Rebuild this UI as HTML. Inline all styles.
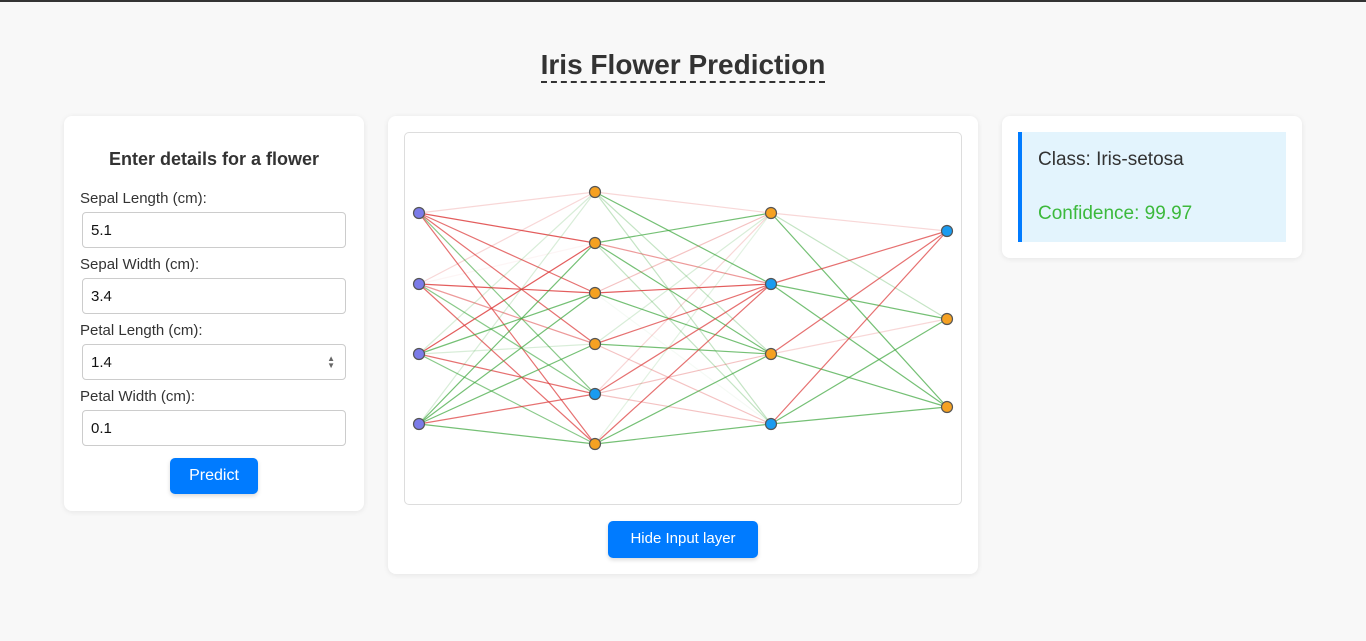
<!DOCTYPE html>
<html><head><meta charset="utf-8"><style>
body{margin:0;width:1366px;height:641px;background:#f8f8f8;font-family:"Liberation Sans",Arial,sans-serif;border-top:2px solid #333;box-sizing:border-box;position:relative;overflow:hidden;color:#333}
.card{position:absolute;background:#fff;border-radius:8px;box-shadow:0 1px 6px rgba(0,0,0,.08)}
h1{position:absolute;left:0;width:1366px;top:47px;margin:0;text-align:center;font-size:28px;font-weight:bold}
h1 span{border-bottom:2px dashed #333;padding-bottom:1px}
label{position:absolute;left:16px;font-size:15px;color:#333}
.inp{position:absolute;left:18px;width:264px;height:36px;border:1px solid #ccc;border-radius:4px;box-sizing:border-box;font-size:15px;padding:9px 8px;color:#111}
.btn{position:absolute;background:#007bff;color:#fff;border-radius:5px;font-size:16px;text-align:center;box-shadow:0 2px 4px rgba(0,0,0,.15)}
</style></head><body>
<h1><span>Iris Flower Prediction</span></h1>
<div class="card" style="left:64px;top:114px;width:300px;height:395px">
<div style="position:absolute;top:33px;width:300px;text-align:center;font-weight:bold;font-size:18px">Enter details for a flower</div>
<label style="top:74px">Sepal Length (cm):</label>
<div class="inp" style="top:96px">5.1</div>
<label style="top:140px">Sepal Width (cm):</label>
<div class="inp" style="top:162px">3.4</div>
<label style="top:206px">Petal Length (cm):</label>
<div class="inp" style="top:228px">1.4<span style="position:absolute;right:10px;top:10px;font-size:8px;line-height:7px;color:#666">▲<br>▼</span></div>
<label style="top:272px">Petal Width (cm):</label>
<div class="inp" style="top:294px">0.1</div>
<div class="btn" style="left:106px;top:342px;width:88px;height:36px;line-height:36px">Predict</div>
</div>
<div class="card" style="left:388px;top:114px;width:590px;height:458px">
<svg id="net" style="position:absolute;left:16px;top:16px;border:1px solid #ddd;border-radius:5px" width="556" height="371"></svg>
<div class="btn" style="left:220px;top:405px;width:150px;height:37px;line-height:36px;font-size:15px">Hide Input layer</div>
</div>
<div class="card" style="left:1002px;top:114px;width:300px;height:142px">
<div style="position:absolute;left:16px;top:16px;width:264px;height:110px;background:#e3f4fd;border-left:4px solid #007bff">
<div style="position:absolute;left:16px;top:17px;font-size:19px;color:#333">Class: Iris-setosa</div>
<div style="position:absolute;left:16px;top:71px;font-size:19px;color:#3cb93c">Confidence: 99.97</div>
</div></div>
<script>
const layerX=[14,190,366,542];
const layerY=[[80,151,221,291],[59,110,160,211,261,311],[80,151,221,291],[98,186,274]];
const nodeColors=[["p","p","p","p"],["o","o","o","o","b","o"],["o","b","o","b"],["b","o","o"]];
const w01=[[-0.2,-0.8,-0.7,-0.7,0.6,-0.7],[-0.2,-0.05,-0.8,-0.5,0.6,-0.7],[0.2,-0.8,0.7,0.2,-0.7,0.6],[0.2,0.7,0.7,0.7,-0.7,0.7]];
const w12=[[-0.2,0.7,0.3,0.3],[0.7,-0.5,0.7,0.3],[-0.3,-0.8,0.7,0.05],[0.2,-0.7,0.7,-0.3],[-0.2,-0.7,-0.3,-0.3],[0.15,-0.7,0.7,0.7]];
const w23=[[-0.2,0.3,0.7],[-0.7,0.7,0.7],[-0.7,-0.2,0.7],[-0.7,0.7,0.7]];
const weights=[w01,w12,w23];
const svg=document.getElementById('net');const NS='http://www.w3.org/2000/svg';
const fill={p:'#7b7be8',o:'#f5a122',b:'#1a9bf0'};
weights.forEach((W,l)=>W.forEach((row,i)=>row.forEach((v,j)=>{
const e=document.createElementNS(NS,'line');


e.setAttribute('x1',layerX[l]);e.setAttribute('y1',layerY[l][i]);
e.setAttribute('x2',layerX[l+1]);e.setAttribute('y2',layerY[l+1][j]);
e.setAttribute('stroke',v<0?'#dc3535':'#3aa53a');e.setAttribute('stroke-opacity',Math.abs(v));e.setAttribute('stroke-width',1.2);
svg.appendChild(e);})));
layerY.forEach((ys,l)=>ys.forEach((y,i)=>{
const c=document.createElementNS(NS,'circle');


c.setAttribute('cx',layerX[l]);c.setAttribute('cy',y);c.setAttribute('r',5.5);
c.setAttribute('fill',fill[nodeColors[l][i]]);c.setAttribute('stroke','#555');c.setAttribute('stroke-width',1.2);
svg.appendChild(c);}));
</script>
</body></html>
